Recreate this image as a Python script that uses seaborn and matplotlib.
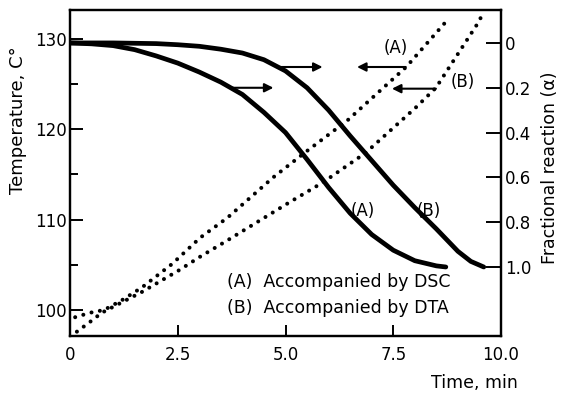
import matplotlib
matplotlib.use("Agg")
import matplotlib.pyplot as plt
import seaborn as sns
import pandas as pd

# ---- data ----
# Temperature (dotted) curves, left axis
temp_time_A = [0.12, 0.47, 0.79, 1.21, 1.67, 2.37, 3.02, 3.65, 4.72, 5.47, 6.44, 7.80, 8.72]
temp_A      = [99.2, 99.7, 100.0, 101.1, 102.5, 105.1, 108.0, 110.2, 114.7, 117.5, 121.0, 126.9, 131.9]
temp_time_B = [0.16, 0.47, 0.74, 1.67, 2.53, 3.02, 3.65, 5.05, 5.86, 6.86, 8.02, 8.49, 9.47, 9.60]
temp_B      = [97.6, 98.7, 99.7, 102.0, 104.4, 105.9, 107.7, 111.8, 114.1, 117.4, 122.4, 124.6, 131.8, 133.0]

# Fractional reaction (solid) curves, right axis
alpha_time_A = [0.0, 0.5, 1.0, 1.5, 2.0, 2.5, 3.0, 3.5, 4.0, 4.5, 5.0, 5.5, 6.0, 6.5, 7.0, 7.5, 8.0, 8.5, 8.72]
alpha_A      = [0.0, 0.004, 0.012, 0.03, 0.058, 0.09, 0.13, 0.175, 0.23, 0.31, 0.40, 0.52, 0.645, 0.76, 0.855, 0.925, 0.972, 0.995, 1.0]
alpha_time_B = [0.0, 1.0, 2.0, 2.5, 3.0, 3.5, 4.0, 4.5, 5.0, 5.5, 6.0, 6.5, 7.0, 7.5, 8.0, 8.5, 9.0, 9.3, 9.6]
alpha_B      = [0.0, 0.0, 0.003, 0.008, 0.015, 0.028, 0.045, 0.075, 0.125, 0.20, 0.30, 0.415, 0.525, 0.635, 0.735, 0.83, 0.93, 0.975, 1.0]

x_ticks = [0, 2.5, 5.0, 7.5, 10.0]
x_tick_labels = ["0", "2.5", "5.0", "7.5", "10.0"]
left_ticks = [100, 110, 120, 130]
left_minor = [105, 115, 125]
right_ticks = [0, 0.2, 0.4, 0.6, 0.8, 1.0]
right_tick_labels = ["0", "0.2", "0.4", "0.6", "0.8", "1.0"]

sns.set_theme(style="ticks")
plt.rcParams["font.family"] = ["DejaVu Sans"]
plt.rcParams.update({
    "axes.linewidth": 1.6,
    "axes.edgecolor": "black",
    "text.color": "black",
    "axes.labelcolor": "black",
    "xtick.color": "black",
    "ytick.color": "black",
})

fig = plt.figure(figsize=(5.62, 3.97), dpi=100)
ax = fig.add_axes([70/562, 61/397, 431/562, 326/397])
ax2 = ax.twinx()

dot_style = dict(color="black", lw=2.9, linestyle=(0, (0.01, 2.1)),
                 dash_capstyle="round", solid_capstyle="round")
df_tA = pd.DataFrame({"t": temp_time_A, "T": temp_A})
df_tB = pd.DataFrame({"t": temp_time_B, "T": temp_B})
sns.lineplot(data=df_tA, x="t", y="T", ax=ax, **dot_style)
sns.lineplot(data=df_tB, x="t", y="T", ax=ax, **dot_style)

solid_style = dict(color="black", lw=3.4, solid_capstyle="round", solid_joinstyle="round")
df_aA = pd.DataFrame({"t": alpha_time_A, "a": alpha_A})
df_aB = pd.DataFrame({"t": alpha_time_B, "a": alpha_B})
sns.lineplot(data=df_aA, x="t", y="a", ax=ax2, **solid_style)
sns.lineplot(data=df_aB, x="t", y="a", ax=ax2, **solid_style)

ax.set_xlim(0, 10)
ax.set_ylim(97.12, 133.21)
ax2.set_ylim(1.308, -0.147)

ax.set_xticks(x_ticks)
ax.set_xticklabels(x_tick_labels)
ax.set_yticks(left_ticks)
ax.set_yticks(left_minor, minor=True)
ax2.set_yticks(right_ticks)
ax2.set_yticklabels(right_tick_labels)

fs = 12
ax.tick_params(axis="x", direction="in", length=8, width=1.4, pad=7, labelsize=fs, top=False)
ax.tick_params(axis="y", which="major", direction="in", length=9.5, width=1.4, pad=2, labelsize=fs)
ax.tick_params(axis="y", which="minor", direction="in", length=6, width=1.4)
ax2.tick_params(axis="y", direction="in", length=10.5, width=1.4, pad=3, labelsize=fs)
ax.set_xlabel("")
ax.set_ylabel("")
ax2.set_ylabel("")
for a in (ax, ax2):
    for s in a.spines.values():
        s.set_visible(True)
        s.set_linewidth(1.6)
        s.set_color("black")

# arrows (in time / temperature coordinates)
arrow_kw = dict(arrowstyle="-|>", color="black", lw=1.5, mutation_scale=13, shrinkA=0, shrinkB=0)
ax.annotate("", xy=(4.72, 124.6), xytext=(3.72, 124.6), arrowprops=arrow_kw)
ax.annotate("", xy=(5.86, 126.9), xytext=(4.88, 126.9), arrowprops=arrow_kw)
ax.annotate("", xy=(6.66, 126.9), xytext=(7.79, 126.9), arrowprops=arrow_kw)
ax.annotate("", xy=(7.47, 124.5), xytext=(8.49, 124.5), arrowprops=arrow_kw)

ax.text(7.56, 129.0, "(A)", ha="center", va="center", fontsize=fs)
ax.text(9.12, 125.2, "(B)", ha="center", va="center", fontsize=fs)
ax.text(6.80, 111.0, "(A)", ha="center", va="center", fontsize=fs)
ax.text(8.33, 111.0, "(B)", ha="center", va="center", fontsize=fs)
ax.text(3.64, 103.1, "(A)  Accompanied by DSC", ha="left", va="center", fontsize=12.5)
ax.text(3.64, 100.2, "(B)  Accompanied by DTA", ha="left", va="center", fontsize=12.5)

fig.text(18/562, 1 - 120/397, "Temperature, C°", rotation=90, ha="center", va="center", fontsize=13)
fig.text(550/562, 1 - 168/397, "Fractional reaction (α)", rotation=90, ha="center", va="center", fontsize=12.5)
fig.text(474/562, 1 - 383/397, "Time, min", ha="center", va="center", fontsize=12.5)

fig.savefig("out.png", dpi=100)
